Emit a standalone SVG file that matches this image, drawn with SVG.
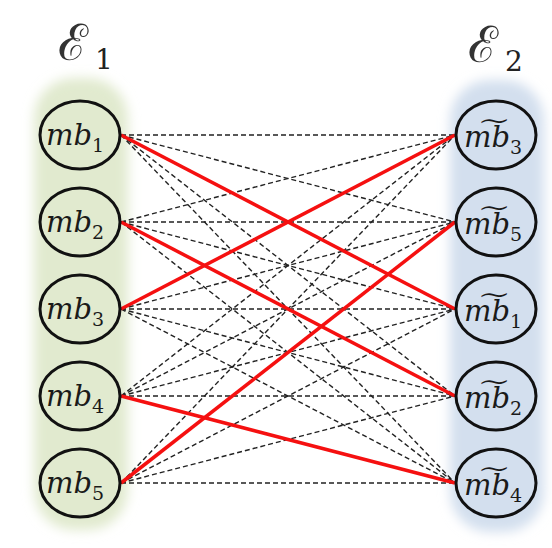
<svg xmlns="http://www.w3.org/2000/svg" width="552" height="548" viewBox="0 0 552 548">
<defs>
<filter id="blur" x="-20%" y="-10%" width="140%" height="120%"><feGaussianBlur stdDeviation="6"/></filter>
<style>
.dash{stroke:#222;stroke-width:1.4;stroke-dasharray:5 3;fill:none}
.red{stroke:#f51010;stroke-width:3.5;fill:none}
.node{fill:none;stroke:#111;stroke-width:3}
.lbl{font-family:"DejaVu Serif","Liberation Serif",serif;font-style:italic;font-size:29px;fill:#1a1a1a}
.sub{font-style:normal;font-size:19px}
.set{font-family:"DejaVu Serif","Liberation Serif",serif;font-size:50px;fill:#333}
.setsub{font-family:"DejaVu Serif","Liberation Serif",serif;font-size:28px;fill:#222}
</style>
</defs>
<rect width="552" height="548" fill="#fff"/>
<g id="set1">
<rect x="34" y="78" width="94" height="452" rx="40" fill="#e1eacf" filter="url(#blur)"/>
<text class="set" x="58" y="60">ℰ<tspan class="setsub" x="95" y="69">1</tspan></text>
</g>
<g id="set2">
<rect x="450" y="80" width="94" height="452" rx="40" fill="#d3dfee" filter="url(#blur)"/>
<text class="set" x="468" y="62">ℰ<tspan class="setsub" x="505" y="71">2</tspan></text>
</g>
<g id="connectors">
<line class="dash" x1="121" y1="135" x2="455" y2="135"/>
<line class="dash" x1="121" y1="135" x2="455" y2="222"/>
<line class="dash" x1="121" y1="135" x2="455" y2="396"/>
<line class="dash" x1="121" y1="135" x2="455" y2="483"/>
<line class="dash" x1="121" y1="222" x2="455" y2="135"/>
<line class="dash" x1="121" y1="222" x2="455" y2="222"/>
<line class="dash" x1="121" y1="222" x2="455" y2="309"/>
<line class="dash" x1="121" y1="222" x2="455" y2="483"/>
<line class="dash" x1="121" y1="309" x2="455" y2="222"/>
<line class="dash" x1="121" y1="309" x2="455" y2="309"/>
<line class="dash" x1="121" y1="309" x2="455" y2="396"/>
<line class="dash" x1="121" y1="309" x2="455" y2="483"/>
<line class="dash" x1="121" y1="396" x2="455" y2="135"/>
<line class="dash" x1="121" y1="396" x2="455" y2="222"/>
<line class="dash" x1="121" y1="396" x2="455" y2="309"/>
<line class="dash" x1="121" y1="396" x2="455" y2="396"/>
<line class="dash" x1="121" y1="483" x2="455" y2="135"/>
<line class="dash" x1="121" y1="483" x2="455" y2="309"/>
<line class="dash" x1="121" y1="483" x2="455" y2="396"/>
<line class="dash" x1="121" y1="483" x2="455" y2="483"/>
<line class="red" x1="121" y1="135" x2="455" y2="309"/>
<line class="red" x1="121" y1="222" x2="455" y2="396"/>
<line class="red" x1="121" y1="309" x2="455" y2="135"/>
<line class="red" x1="121" y1="396" x2="455" y2="483"/>
<line class="red" x1="121" y1="483" x2="455" y2="222"/>
</g>
<g id="mb1"><ellipse class="node" cx="80" cy="135" rx="40" ry="34"/><text class="lbl" x="46" y="145">mb<tspan class="sub" dy="7">1</tspan></text></g>
<g id="mb2"><ellipse class="node" cx="80" cy="222" rx="40" ry="34"/><text class="lbl" x="46" y="232">mb<tspan class="sub" dy="7">2</tspan></text></g>
<g id="mb3"><ellipse class="node" cx="80" cy="309" rx="40" ry="34"/><text class="lbl" x="46" y="319">mb<tspan class="sub" dy="7">3</tspan></text></g>
<g id="mb4"><ellipse class="node" cx="80" cy="396" rx="40" ry="34"/><text class="lbl" x="46" y="406">mb<tspan class="sub" dy="7">4</tspan></text></g>
<g id="mb5"><ellipse class="node" cx="80" cy="483" rx="40" ry="34"/><text class="lbl" x="46" y="493">mb<tspan class="sub" dy="7">5</tspan></text></g>
<g id="tmb3"><ellipse class="node" cx="496" cy="135" rx="40" ry="34"/><text class="lbl" x="464" y="147">m͠b<tspan class="sub" dy="7">3</tspan></text></g>
<g id="tmb5"><ellipse class="node" cx="496" cy="222" rx="40" ry="34"/><text class="lbl" x="464" y="234">m͠b<tspan class="sub" dy="7">5</tspan></text></g>
<g id="tmb1"><ellipse class="node" cx="496" cy="309" rx="40" ry="34"/><text class="lbl" x="464" y="321">m͠b<tspan class="sub" dy="7">1</tspan></text></g>
<g id="tmb2"><ellipse class="node" cx="496" cy="396" rx="40" ry="34"/><text class="lbl" x="464" y="408">m͠b<tspan class="sub" dy="7">2</tspan></text></g>
<g id="tmb4"><ellipse class="node" cx="496" cy="483" rx="40" ry="34"/><text class="lbl" x="464" y="495">m͠b<tspan class="sub" dy="7">4</tspan></text></g>
</svg>
